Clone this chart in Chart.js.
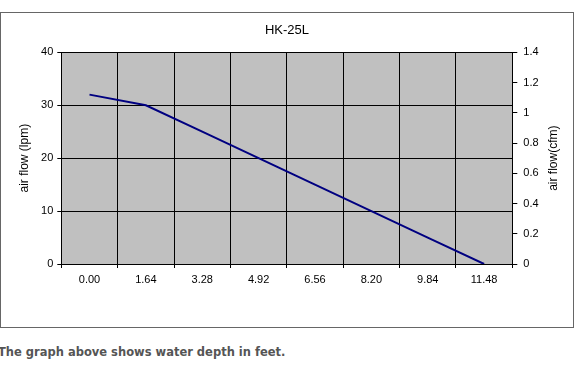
<!DOCTYPE html>
<html>
<head>
<meta charset="utf-8">
<script src="https://cdn.jsdelivr.net/npm/chart.js@4"></script>
<style>
  html, body { margin: 0; padding: 0; background: #fff; width: 579px; height: 375px; overflow: hidden; }
  #box { position: absolute; left: 0px; top: 12px; width: 572px; height: 314px; border: 1px solid #666; }
  #c { display: block; width: 572px; height: 314px; }
  #caption { position: absolute; left: -2px; top: 345px; margin: 0; font-family: "DejaVu Sans", Verdana, sans-serif; font-weight: bold; font-size: 11.5px; color: #555; white-space: nowrap; }
</style>
</head>
<body>
<div id="box"><canvas id="c" width="572" height="314"></canvas></div>
<p id="caption">The graph above shows water depth in feet.</p>
<script>
const chartTitle = 'HK-25L';
const categories = ['0.00', '1.64', '3.28', '4.92', '6.56', '8.20', '9.84', '11.48'];
const airFlowLpm = [32, 30, 25, 20, 15, 10, 5, 0];
const leftAxisTitle = 'air flow (lpm)';
const rightAxisTitle = 'air flow(cfm)';
const leftTicks = [0, 10, 20, 30, 40];
const rightTicks = [0, 0.2, 0.4, 0.6, 0.8, 1, 1.2, 1.4];

const font = 'Liberation Sans, Arial, sans-serif';

const plotBg = {
  id: 'plotBg',
  beforeDraw(chart) {
    const {ctx, chartArea: a} = chart;
    ctx.save();
    ctx.fillStyle = '#C0C0C0';
    ctx.fillRect(a.left, a.top, a.right - a.left, a.bottom - a.top);
    ctx.restore();
  }
};

const rightTitle = {
  id: 'rightTitle',
  afterDraw(chart) {
    const s = chart.scales.y2;
    const {ctx, chartArea: a} = chart;
    ctx.save();
    ctx.font = '12px ' + font;
    ctx.fillStyle = '#000';
    ctx.textAlign = 'center';
    ctx.textBaseline = 'middle';
    ctx.translate(s.right - 19, (a.top + a.bottom) / 2);
    ctx.rotate(-Math.PI / 2);
    ctx.fillText(rightAxisTitle, 0, 0);
    ctx.restore();
  }
};

new Chart(document.getElementById('c'), {
  type: 'line',
  data: {
    labels: categories,
    datasets: [{
      data: airFlowLpm,
      borderColor: '#000080',
      borderWidth: 2,
      pointRadius: 0,
      tension: 0,
      fill: false
    }]
  },
  options: {
    responsive: false,
    animation: false,
    devicePixelRatio: 1,
    layout: { padding: 0 },
    plugins: {
      legend: { display: false },
      tooltip: { enabled: false },
      title: {
        display: true,
        text: chartTitle,
        color: '#000',
        font: { family: font, size: 13, weight: 'normal', lineHeight: 1.2 },
        padding: { top: 10, bottom: 13.7 }
      }
    },
    scales: {
      x: {
        offset: true,
        grid: { offset: true, color: '#000', lineWidth: 1, tickLength: 4, drawOnChartArea: true },
        border: { color: '#000', width: 1 },
        ticks: { color: '#000', font: { family: font, size: 11 }, padding: 5, maxRotation: 0, autoSkip: false },
        afterFit(s) { s.height = 63; }
      },
      y: {
        position: 'left',
        min: 0, max: 40,
        afterBuildTicks(s) { s.ticks = leftTicks.map(v => ({value: v})); },
        grid: { color: '#000', lineWidth: 1, tickLength: 4 },
        border: { color: '#000', width: 1 },
        ticks: { color: '#000', font: { family: font, size: 11 }, padding: 4 },
        title: { display: true, text: leftAxisTitle, color: '#000', font: { family: font, size: 12, lineHeight: 1.2 }, padding: { top: 16.8, bottom: 0 } },
        afterFit(s) { s.width = 60.3; }
      },
      y2: {
        position: 'right',
        min: 0, max: 1.4,
        afterBuildTicks(s) { s.ticks = rightTicks.map(v => ({value: v})); },
        grid: { drawOnChartArea: false, color: '#000', lineWidth: 1, tickLength: 5 },
        border: { color: '#000', width: 1 },
        ticks: { color: '#000', font: { family: font, size: 11 }, padding: 6, callback: v => String(Number(v.toFixed(1))) },
        afterFit(s) { s.width = 60.7; }
      }
    }
  },
  plugins: [plotBg, rightTitle]
});
</script>
</body>
</html>
